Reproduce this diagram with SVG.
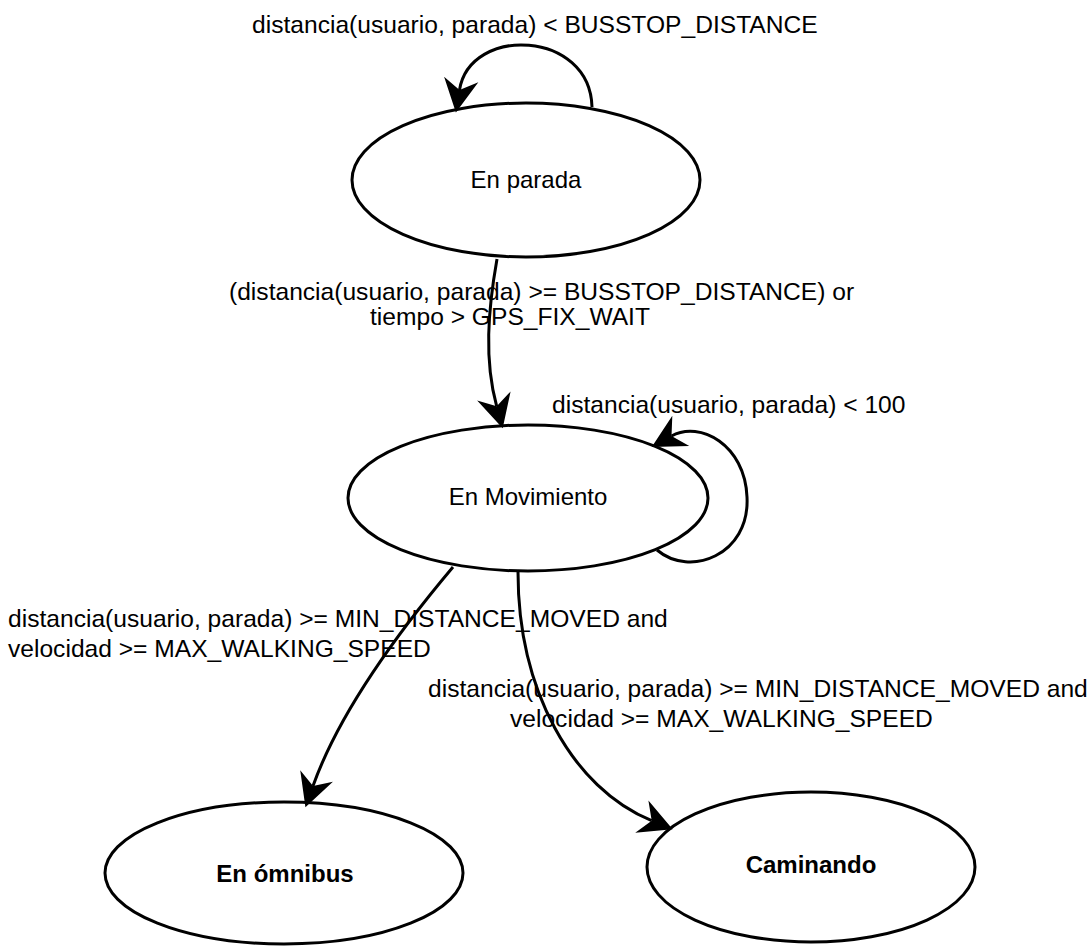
<svg xmlns="http://www.w3.org/2000/svg" width="1089" height="947" viewBox="0 0 1089 947">
<style>
.node{fill:#fff;stroke:#000;stroke-width:3}
.edge{fill:none;stroke:#000;stroke-width:3}
text{font-family:"Liberation Sans",Arial,sans-serif;font-size:24px;fill:#000}
.lbl{font-size:24.6px}
.nl{text-anchor:middle}
.b{font-weight:bold}
</style>
<defs>
<marker id="arr" markerUnits="userSpaceOnUse" markerWidth="40" markerHeight="40" viewBox="-10 -15 30 30" refX="0" refY="0" orient="auto" overflow="visible">
<path d="M17,0 L-8,-13 L0,0 L-8,13 Z" fill="#000"/>
</marker>
</defs>
<rect width="1089" height="947" fill="#fff"/>
<g id="n-parada"><ellipse class="node" cx="526" cy="180" rx="174" ry="77"/><text class="nl" x="526" y="188">En parada</text></g>
<g id="n-movimiento"><ellipse class="node" cx="528" cy="498" rx="180" ry="73"/><text class="nl" x="528" y="505">En Movimiento</text></g>
<g id="n-omnibus"><ellipse class="node" cx="284" cy="873" rx="179" ry="71"/><text class="nl b" x="285" y="882">En ómnibus</text></g>
<g id="n-caminando"><ellipse class="node" cx="811" cy="867" rx="164" ry="75"/><text class="nl b" x="811" y="873">Caminando</text></g>
<g id="connectors">
<path class="edge" marker-end="url(#arr)" d="M592,107 C590,30 470,25 459.5,90"/>
<path class="edge" marker-end="url(#arr)" d="M497,259 C488,310 484,360 496.7,406.3"/>
<path class="edge" marker-end="url(#arr)" d="M657,550 C690,578 750,555 747,497 C745,445 700,420 671.5,436"/>
<path class="edge" marker-end="url(#arr)" d="M453,567 C400,630 340,710 313,786"/>
<path class="edge" marker-end="url(#arr)" d="M518,572 C518,690 572,788 651.7,820.7"/>
</g>
<g id="labels" class="lbl">
<text class="lbl" x="252" y="33">distancia(usuario, parada) &lt; BUSSTOP_DISTANCE</text>
<text class="lbl" x="229" y="300">(distancia(usuario, parada) &gt;= BUSSTOP_DISTANCE) or</text>
<text class="lbl" x="370" y="325">tiempo &gt; GPS_FIX_WAIT</text>
<text class="lbl" x="552" y="413">distancia(usuario, parada) &lt; 100</text>
<text class="lbl" x="8" y="627">distancia(usuario, parada) &gt;= MIN_DISTANCE_MOVED and</text>
<text class="lbl" x="8" y="657">velocidad &gt;= MAX_WALKING_SPEED</text>
<text class="lbl" x="428" y="697">distancia(usuario, parada) &gt;= MIN_DISTANCE_MOVED and</text>
<text class="lbl" x="510" y="727">velocidad &gt;= MAX_WALKING_SPEED</text>
</g>
</svg>
